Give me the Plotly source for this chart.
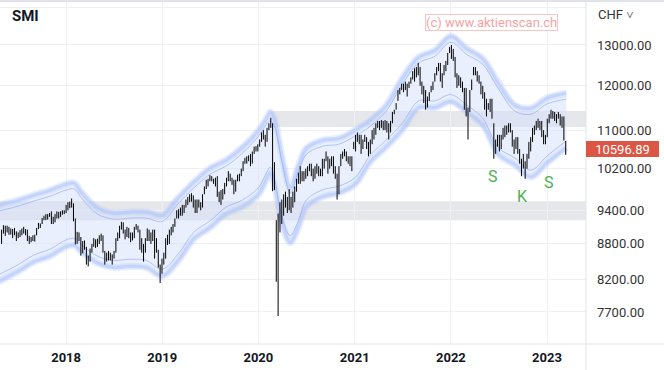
import math
import pandas as pd
import plotly.graph_objects as go

# ---------------- data ----------------
first_week = "2017-05-01"  # weekly bars

low = [
    # 2017 (May 1 .. Dec 25)
    8800, 8980, 8940, 9000, 8960, 8960, 8900, 8950, 8850, 8900,
    8920, 8950, 8980, 8950, 8850, 8800, 8830, 8850, 8840, 8950,
    9060, 9080, 9150, 9220, 9220, 9230, 9280, 9150, 9150, 9180,
    9250, 9250, 9280, 9320, 9330,
    # 2018
    9350, 9400, 9440, 9450, 9200, 8790, 8800, 8850, 8600, 8640,
    8700, 8450, 8420, 8500, 8650, 8750, 8730, 8750, 8800, 8850,
    8650, 8450, 8500, 8520, 8520, 8450, 8550, 8650, 8850, 8900,
    9050, 8980, 8880, 8920, 8900, 8830, 8860, 8900, 9050, 9000,
    8700, 8650, 8500, 8650, 8850, 8850, 8800, 8850, 8550, 8650,
    8400, 8150,
    # 2019
    8300, 8450, 8550, 8780, 8800, 8950, 9000, 9100, 9250, 9250,
    9300, 9300, 9350, 9450, 9500, 9550, 9560, 9450, 9350, 9350,
    9450, 9400, 9450, 9700, 9800, 9850, 9950, 9950, 9900, 9850,
    9650, 9550, 9500, 9600, 9700, 9850, 9950, 9950, 9880, 9700,
    9750, 9950, 9950, 10050, 10150, 10300, 10300, 10350, 10250, 10300,
    10500, 10550,
    # 2020
    10550, 10650, 10750, 10800, 10650, 10750, 11000, 11050, 9760, 9780,
    8170, 7640, 9000, 9150, 9300, 9450, 9350, 9400, 9350, 9450,
    9550, 9750, 9900, 9900, 9950, 9950, 10000, 10050, 10150, 10050,
    9950, 10000, 10100, 10050, 10050, 10050, 10200, 10350, 10100, 10200,
    10250, 10100, 10000, 9600, 9700, 10250, 10400, 10450, 10350, 10300,
    10250, 10150,
    # 2021
    10600, 10550, 10750, 10700, 10500, 10600, 10750, 10600, 10450, 10500,
    10700, 10800, 10900, 11050, 11000, 11050, 11000, 11000, 10950, 10800,
    10950, 11150, 11350, 11450, 11650, 11800, 11900, 11850, 11900, 11750,
    11950, 12050, 12150, 12100, 12200, 12250, 12000, 11800, 11600, 11450,
    11500, 11650, 11850, 11900, 12100, 12250, 12350, 12100, 11950, 12250,
    12350, 12500, 12800,
    # 2022
    12650, 12600, 12200, 11950, 12000, 11950, 11850, 11450, 11300, 10800,
    11400, 11900, 12250, 12250, 12100, 12050, 11800, 11700, 11450, 11300,
    11450, 11400, 11250, 10400, 10500, 10650, 10550, 10600, 10800, 10850,
    10900, 10950, 10950, 10650, 10500, 10600, 10500, 10300, 10050, 10200,
    10000, 10200, 10400, 10550, 10750, 10900, 11000, 11050, 11000, 10850,
    10700, 10700,
    # 2023
    10850, 11150, 11250, 11250, 11200, 11150, 11250, 11100, 11050, 10780,
    10480,
]

high = [
    # 2017
    9050, 9130, 9120, 9120, 9100, 9070, 9060, 9080, 9020, 9000,
    9040, 9070, 9100, 9060, 9050, 8940, 8920, 8950, 8960, 9080,
    9170, 9160, 9260, 9300, 9330, 9330, 9350, 9380, 9280, 9330,
    9380, 9370, 9380, 9400, 9400,
    # 2018
    9500, 9550, 9560, 9620, 9530, 9250, 9010, 9000, 8920, 8850,
    8860, 8750, 8600, 8720, 8800, 8900, 8880, 8890, 8950, 8980,
    8950, 8680, 8650, 8680, 8650, 8620, 8680, 8900, 9000, 9120,
    9190, 9180, 9050, 9100, 9080, 9000, 9000, 9100, 9150, 9120,
    9050, 8900, 8800, 8900, 9070, 9050, 9000, 9050, 9050, 8900,
    8700, 8450,
    # 2019
    8550, 8650, 8900, 8960, 9050, 9100, 9150, 9250, 9400, 9420,
    9450, 9500, 9500, 9600, 9650, 9700, 9720, 9680, 9600, 9600,
    9600, 9550, 9700, 9850, 9980, 10000, 10070, 10050, 10000, 10020,
    10050, 9750, 9780, 9800, 9920, 10020, 10150, 10100, 10020, 9980,
    9980, 10080, 10100, 10200, 10350, 10420, 10450, 10470, 10500, 10550,
    10650, 10660,
    # 2020
    10700, 10800, 10950, 11000, 10900, 11050, 11150, 11270, 11150, 10330,
    9220, 9340, 9550, 9600, 9700, 9750, 9650, 9800, 9650, 9750,
    9850, 10000, 10120, 10250, 10150, 10150, 10200, 10250, 10300, 10300,
    10200, 10250, 10300, 10250, 10200, 10400, 10400, 10550, 10450, 10400,
    10450, 10450, 10250, 10100, 10250, 10500, 10550, 10600, 10550, 10450,
    10450, 10450,
    # 2021
    10750, 10900, 10950, 10900, 10900, 10800, 10900, 10850, 10750, 10800,
    11000, 11050, 11150, 11200, 11200, 11220, 11200, 11220, 11200, 11150,
    11200, 11400, 11450, 11600, 11900, 11950, 12050, 12050, 12100, 12050,
    12100, 12200, 12350, 12420, 12450, 12550, 12450, 12100, 12000, 11900,
    11750, 11850, 12000, 12100, 12300, 12450, 12550, 12550, 12300, 12500,
    12600, 12800, 12950,
    # 2022
    13000, 12900, 12700, 12300, 12250, 12200, 12100, 11950, 11950, 11500,
    11900, 12150, 12450, 12450, 12350, 12250, 12100, 12000, 11850, 11700,
    11600, 11700, 11700, 11150, 10800, 10900, 10900, 10900, 11050, 11100,
    11100, 11150, 11150, 11000, 10800, 10850, 10850, 10600, 10400, 10500,
    10350, 10500, 10750, 10850, 11050, 11100, 11200, 11250, 11200, 11200,
    11000, 10900,
    # 2023
    11250, 11350, 11450, 11420, 11400, 11350, 11400, 11350, 11300, 11300,
    10770,
]

band_dates = [
    "2017-04-20", "2017-07-01", "2017-09-01", "2017-11-01",
    "2018-01-01", "2018-02-01", "2018-03-01", "2018-05-01", "2018-07-01",
    "2018-09-01", "2018-11-01",
    "2019-01-01", "2019-03-01", "2019-05-01", "2019-07-01", "2019-09-01",
    "2019-11-01",
    "2020-01-01", "2020-02-01", "2020-02-15", "2020-03-01", "2020-04-01",
    "2020-05-01", "2020-06-01", "2020-07-01", "2020-09-01", "2020-11-01",
    "2021-01-01", "2021-03-01", "2021-05-01", "2021-07-01", "2021-09-01",
    "2021-11-01",
    "2022-01-01", "2022-03-01", "2022-05-01", "2022-07-01", "2022-09-01",
    "2022-11-01",
    "2023-01-01", "2023-03-15",
]
upper_outer = [9500, 9590, 9690, 9780, 9900, 9920, 9740, 9440, 9350, 9370,
               9370, 9310, 9630, 9940, 10210, 10380, 10640, 11000, 11270, 11400,
               11270, 10420, 9840, 10270, 10620, 10790, 10830, 11000, 11220, 11560,
               12190, 12700, 12870, 13230, 12920, 12670, 12070, 11560, 11490, 11720,
               11830]
upper_inner = [9386, 9475, 9574, 9663, 9781, 9801, 9623, 9327, 9238, 9258,
               9258, 9198, 9514, 9821, 10087, 10255, 10512, 10868, 11135, 11200,
               11100, 10300, 9720, 10150, 10490, 10660, 10700, 10870, 11085, 11420,
               12045, 12550, 12715, 13070, 12765, 12520, 11925, 11420, 11350, 11580,
               11690]
lower_outer = [8170, 8330, 8490, 8590, 8750, 8770, 8660, 8470, 8400, 8420,
               8400, 8260, 8500, 8880, 9080, 9330, 9460, 9690, 9980, 10110,
               9880, 9130, 8820, 9080, 9460, 9650, 9720, 9880, 10330, 10640,
               11000, 11490, 11490, 11630, 11400, 11110, 10480, 10270, 10030, 10310,
               10620]
lower_inner = [8285, 8445, 8610, 8710, 8870, 8895, 8780, 8590, 8520, 8540,
               8520, 8375, 8620, 9005, 9205, 9460, 9590, 9825, 10120, 10230,
               10020, 9260, 8945, 9205, 9590, 9785, 9855, 10020, 10475, 10790,
               11155, 11650, 11650, 11795, 11560, 11265, 10625, 10415, 10170, 10455,
               10770]

zones = [  # (start date, low, high)
    ("2017-04-01", 9220, 9570),
    ("2020-02-19", 11070, 11420),
]

y_ticks = [7700, 8200, 8800, 9400, 10200, 11000, 12000, 13000, 14000]
y_tick_text = ["7700.00", "8200.00", "8800.00", "9400.00", "10200.00",
               "11000.00", "12000.00", "13000.00", ""]

last_price = 10596.89
pattern_labels = [("S", "2022-06-09", 10035), ("K", "2022-09-30", 9649),
                  ("S", "2023-01-08", 9917)]

# ---------------- figure ----------------
dates = pd.date_range(first_week, periods=len(low), freq="7D")
bx, by = [], []
for d, lo, hi in zip(dates, low, high):
    bx += [d, d, None]
    by += [lo, hi, None]

fig = go.Figure()
spl = dict(shape="spline", smoothing=1.0)

fig.add_trace(go.Scatter(x=band_dates, y=lower_outer, mode="lines",
                         line=dict(width=0, **spl), hoverinfo="skip"))
fig.add_trace(go.Scatter(x=band_dates, y=upper_outer, mode="lines", fill="tonexty",
                         fillcolor="rgba(212,224,252,0.5)",
                         line=dict(width=0, **spl), hoverinfo="skip"))
for ys in (upper_outer, lower_outer):
    fig.add_trace(go.Scatter(x=band_dates, y=ys, mode="lines",
                             line=dict(width=7, color="rgba(175,198,250,0.28)", **spl)))
    fig.add_trace(go.Scatter(x=band_dates, y=ys, mode="lines",
                             line=dict(width=3.5, color="rgba(170,194,250,0.5)", **spl)))
for ys in (upper_inner, lower_inner):
    fig.add_trace(go.Scatter(x=band_dates, y=ys, mode="lines",
                             line=dict(width=1, color="rgba(140,170,244,0.65)", **spl)))

fig.add_trace(go.Scatter(x=bx, y=by, mode="lines",
                         line=dict(width=1.0, color="#000000"), connectgaps=False))

shapes = []
for start, zlo, zhi in zones:
    shapes.append(dict(type="rect", xref="x", yref="y", x0=start, x1="2023-06-30",
                       y0=zlo, y1=zhi, fillcolor="#e6e7eb", line=dict(width=0),
                       layer="below"))
H = 342.0
W = 586.0
shapes += [
    dict(type="line", xref="paper", yref="paper", x0=0, x1=664 / W,
         y0=1 + 1.0 / H, y1=1 + 1.0 / H, line=dict(color="#e0e3eb", width=2)),
    dict(type="line", xref="paper", yref="paper", x0=0, x1=664 / W, y0=0, y1=0,
         line=dict(color="#e0e3eb", width=1)),
    dict(type="line", xref="paper", yref="paper", x0=1, x1=1, y0=-26 / H,
         y1=1 + 2 / H, line=dict(color="#e0e3eb", width=1)),
]

annotations = [
    dict(text="<b>SMI</b>", xref="paper", yref="paper", x=10 / W, y=(344 - 16) / H,
         xanchor="left", yanchor="middle", showarrow=False,
         font=dict(family="Roboto", size=15, color="#131722")),
    dict(text="CHF ˅", xref="paper", yref="paper", x=596 / W, y=(344 - 14.5) / H,
         xanchor="left", yanchor="middle", showarrow=False,
         font=dict(family="Roboto", size=13, color="#333333")),
    dict(text="(c) www.aktienscan.ch", xref="paper", yref="paper", x=492 / W,
         y=(344 - 22) / H, xanchor="center", yanchor="middle", showarrow=False,
         font=dict(family="Roboto", size=13, color="#f4a4a4"),
         bordercolor="#f8c4c4", borderwidth=1, borderpad=0, bgcolor="rgba(255,255,255,0.6)"),
    dict(text=f"{last_price:.2f}", xref="paper", yref="y", x=1,
         y=math.log10(last_price), xanchor="left", yanchor="middle", showarrow=False,
         font=dict(family="Roboto", size=13, color="#ffffff"), bgcolor="#dc5646",
         width=69, height=12, borderpad=2, borderwidth=0, align="center"),
]
for txt, d, v in pattern_labels:
    annotations.append(dict(text=txt, xref="x", yref="y", x=d, y=math.log10(v),
                            showarrow=False, xanchor="center", yanchor="middle",
                            font=dict(family="Roboto", size=16, color="#4caf50")))

fig.update_layout(
    width=664, height=370, margin=dict(l=0, r=78, t=2, b=26),
    paper_bgcolor="white", plot_bgcolor="white", showlegend=False,
    shapes=shapes, annotations=annotations, hovermode=False,
    xaxis=dict(type="date", range=["2017-04-25", "2023-05-29"], dtick="M12",
               tick0="2018-01-01", tickformat="%Y", showgrid=True,
               gridcolor="#f0f0f3", zeroline=False, showline=False, ticks="",
               tickfont=dict(family="Roboto", size=13, color="#131722", weight="bold"),
               ticklabelstandoff=4, fixedrange=True),
    yaxis=dict(type="log", range=[3.85922, 4.15057], side="right",
               tickmode="array", tickvals=y_ticks, ticktext=y_tick_text,
               showgrid=True, gridcolor="#f0f0f3", zeroline=False, showline=False,
               ticks="", tickfont=dict(family="Roboto", size=13, color="#333333"),
               ticklabelstandoff=10, fixedrange=True),
)

fig.write_html("out.html", config={"displayModeBar": False},
               post_script="document.body.style.margin='0';document.body.style.overflow='hidden';")
